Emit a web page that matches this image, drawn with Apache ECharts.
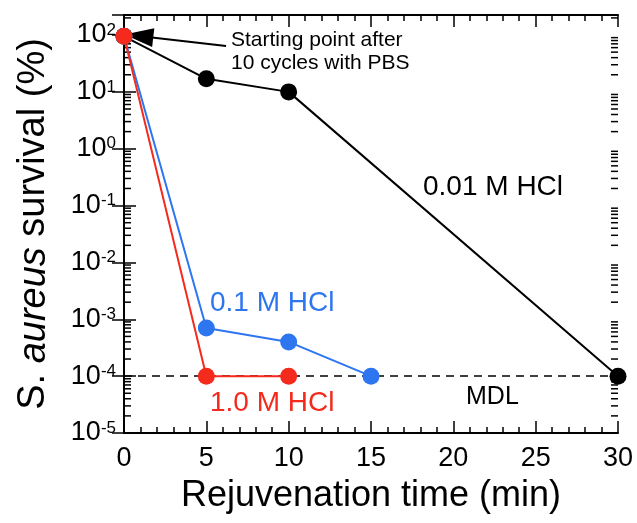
<!DOCTYPE html>
<html>
<head>
  <meta charset="UTF-8">
  <title>S. aureus survival vs rejuvenation time</title>
  <style>
    body { margin: 0; }
    #main { width: 637px; height: 523px; }
  </style>
</head>
<body>
  <div id="main"></div>
  <script src="https://cdn.jsdelivr.net/npm/echarts@6/dist/echarts.min.js"></script>
  <script>
    // rejuvenation time (min) and survival (%) per HCl concentration
    const times001 = [0, 5, 10, 30];
    const survival001 = [95, 17, 10, 1e-4];
    const times01 = [0, 5, 10, 15];
    const survival01 = [95, 7e-4, 4e-4, 1e-4];
    const times10 = [0, 5, 10];
    const survival10 = [95, 1e-4, 1e-4];
    const mdl = 1e-4;

    // log axis decades and minor multiples
    const decades = [-5, -4, -3, -2, -1, 0, 1, 2];
    const minorMultiples = [2, 3, 4, 5, 6, 7, 8, 9];
    const yMin = 1e-5, yMax = 225;

    // arrow from annotation text to starting point
    const arrowFrom = [6.2, 64];
    const arrowTo = [0.9, 96];

    const FONT = "'Liberation Sans', Arial, sans-serif";
    const RED = '#f42a1c', BLUE = '#2e75f0';

    const pairs = (xs, ys) => xs.map((x, i) => [x, ys[i]]);
    const minorVals = [];
    decades.forEach(d => minorMultiples.forEach(m => {
      const v = m * Math.pow(10, d);
      if (v < yMax) minorVals.push([0, v]);
    }));

    const chart = echarts.init(document.getElementById('main'));

    const xBase = {
      type: 'value', min: 0, max: 30, interval: 5,
      axisLine: { lineStyle: { color: '#000', width: 2 } },
      axisTick: { inside: true, length: 12, lineStyle: { color: '#000', width: 1.5 } },
      minorTick: { show: true, splitNumber: 5, length: 6, lineStyle: { color: '#000', width: 1.5 } },
      splitLine: { show: false }
    };
    const yBase = {
      type: 'log', logBase: 10, min: yMin, max: yMax,
      axisLine: { show: true, lineStyle: { color: '#000', width: 2 } },
      axisTick: { show: true, inside: true, length: 12, lineStyle: { color: '#000', width: 1.5 } },
      splitLine: { show: false }
    };

    chart.setOption({
      animation: false,
      grid: { left: 124, right: 19, top: 15, bottom: 90 },
      xAxis: [
        Object.assign({}, xBase, {
          position: 'bottom',
          name: 'Rejuvenation time (min)',
          nameLocation: 'middle',
          nameGap: 45,
          nameTextStyle: { fontFamily: FONT, fontSize: 36, color: '#000' },
          axisLabel: { margin: 12, fontFamily: FONT, fontSize: 27, color: '#000' }
        }),
        Object.assign({}, xBase, { position: 'top', axisLabel: { show: false } })
      ],
      yAxis: [
        Object.assign({}, yBase, {
          position: 'left',
          name: '{n|S. }{i|aureus}{n| survival (%)}',
          nameLocation: 'middle',
          nameGap: 71,
          nameTextStyle: {
            rich: {
              n: { fontFamily: FONT, fontSize: 38, color: '#000' },
              i: { fontFamily: FONT, fontSize: 38, fontStyle: 'italic', color: '#000' }
            }
          },
          axisLabel: {
            margin: 8,
            showMaxLabel: false,
            formatter: v => {
              const e = Math.log10(v);
              if (Math.abs(e - Math.round(e)) > 0.01) return '';
              return '{b|10}{s|' + Math.round(e) + '}';
            },
            rich: {
              b: { fontFamily: FONT, fontSize: 27, color: '#000' },
              s: { fontFamily: FONT, fontSize: 17, color: '#000', verticalAlign: 'top' }
            }
          }
        }),
        Object.assign({}, yBase, { position: 'right', axisLabel: { show: false } })
      ],
      series: [
        {
          type: 'custom',
          silent: true,
          clip: false,
          renderItem: (params, api) => {
            const y = api.coord([0, api.value(1)])[1];
            const cs = params.coordSys;
            const st = { stroke: '#000', lineWidth: 1.5 };
            return {
              type: 'group',
              children: [
                { type: 'line', shape: { x1: cs.x, y1: y, x2: cs.x + 7, y2: y }, style: st },
                { type: 'line', shape: { x1: cs.x + cs.width - 7, y1: y, x2: cs.x + cs.width, y2: y }, style: st }
              ]
            };
          },
          data: minorVals
        },
        {
          name: '0.01 M HCl',
          type: 'line',
          data: pairs(times001, survival001),
          symbol: 'circle',
          symbolSize: 17,
          clip: false,
          itemStyle: { color: '#000' },
          lineStyle: { color: '#000', width: 2 },
          markLine: {
            silent: true,
            z: 1,
            label: { show: false },
            data: [
              [
                { coord: [0, mdl], symbol: 'none', lineStyle: { type: [8, 6], width: 1.5, color: '#000' } },
                { coord: [30, mdl], symbol: 'none' }
              ],
              [
                { coord: arrowFrom, symbol: 'none', lineStyle: { type: 'solid', width: 2, color: '#000' } },
                { coord: arrowTo, symbol: 'triangle', symbolSize: [19, 29] }
              ]
            ]
          }
        },
        {
          name: '0.1 M HCl',
          type: 'line',
          data: pairs(times01, survival01),
          symbol: 'circle',
          symbolSize: 17,
          clip: false,
          itemStyle: { color: BLUE },
          lineStyle: { color: BLUE, width: 2 }
        },
        {
          name: '1.0 M HCl',
          type: 'line',
          data: pairs(times10, survival10),
          symbol: 'circle',
          symbolSize: 17,
          clip: false,
          itemStyle: { color: RED },
          lineStyle: { color: RED, width: 2 }
        }
      ],
      graphic: [
        { type: 'text', x: 231, y: 40, style: { text: 'Starting point after', font: '21px ' + FONT, fill: '#000', verticalAlign: 'middle' } },
        { type: 'text', x: 231, y: 63, style: { text: '10 cycles with PBS', font: '21px ' + FONT, fill: '#000', verticalAlign: 'middle' } },
        { type: 'text', x: 423, y: 187, style: { text: '0.01 M HCl', font: '28px ' + FONT, fill: '#000', verticalAlign: 'middle' } },
        { type: 'text', x: 210, y: 303, style: { text: '0.1 M HCl', font: '28px ' + FONT, fill: BLUE, verticalAlign: 'middle' } },
        { type: 'text', x: 210, y: 403, style: { text: '1.0 M HCl', font: '28px ' + FONT, fill: RED, verticalAlign: 'middle' } },
        { type: 'text', x: 466, y: 397, style: { text: 'MDL', font: '25px ' + FONT, fill: '#000', verticalAlign: 'middle' } }
      ]
    });
  </script>
</body>
</html>
